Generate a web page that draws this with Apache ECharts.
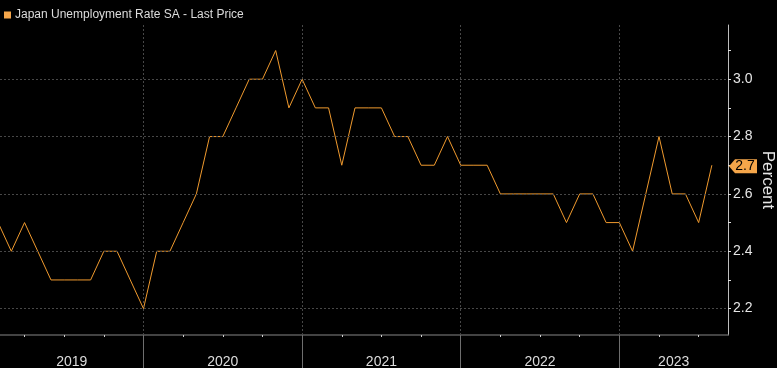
<!DOCTYPE html>
<html>
<head>
<meta charset="utf-8">
<script src="https://cdn.jsdelivr.net/npm/echarts@6/dist/echarts.min.js"></script>
<style>
html,body{margin:0;padding:0;background:#000;}
#c{width:777px;height:368px;}
</style>
</head>
<body>
<div id="c"></div>
<script>
// Monthly observations (plotted at month end)
const months = [
  '2019-01','2019-02','2019-03','2019-04','2019-05','2019-06','2019-07','2019-08','2019-09','2019-10','2019-11','2019-12',
  '2020-01','2020-02','2020-03','2020-04','2020-05','2020-06','2020-07','2020-08','2020-09','2020-10','2020-11','2020-12',
  '2021-01','2021-02','2021-03','2021-04','2021-05','2021-06','2021-07','2021-08','2021-09','2021-10','2021-11','2021-12',
  '2022-01','2022-02','2022-03','2022-04','2022-05','2022-06','2022-07','2022-08','2022-09','2022-10','2022-11','2022-12',
  '2023-01','2023-02','2023-03','2023-04','2023-05','2023-06','2023-07'
];
const rates = [
  2.5,2.4,2.5,2.4,2.3,2.3,2.3,2.3,2.4,2.4,2.3,2.2,
  2.4,2.4,2.5,2.6,2.8,2.8,2.9,3.0,3.0,3.1,2.9,3.0,
  2.9,2.9,2.7,2.9,2.9,2.9,2.8,2.8,2.7,2.7,2.8,2.7,
  2.7,2.7,2.6,2.6,2.6,2.6,2.6,2.5,2.6,2.6,2.5,2.5,
  2.4,2.6,2.8,2.6,2.6,2.5,2.7
];
const years = [2019, 2020, 2021, 2022, 2023];
const yLabelTicks = [2.2, 2.4, 2.6, 2.8, 3.0];
const yMinorTicks = [2.2, 2.3, 2.4, 2.5, 2.6, 2.7, 2.8, 2.9, 3.0, 3.1];
const seriesName = 'Japan Unemployment Rate SA - Last Price';

const BASE = 2019;
function pos(s){ const [y,m] = s.split('-').map(Number); return (y-BASE)*12 + m; }
const xMin = 1.144, xMax = 56.22;
const yMin = 2.108, yMax = 3.189;

const data = months.map((m,i)=>[pos(m), rates[i]]);
const yearBounds = years.slice(1).map(y=>(y-BASE)*12);
const yearMids = years.map(y=>{
  const a = Math.max(xMin,(y-BASE)*12), b = Math.min(xMax,(y-BASE+1)*12);
  return (a+b)/2;
});
const quarterTicks = [];
for(let q=3;q<xMax;q+=3){ if(q>xMin) quarterTicks.push(q); }
const last = data[data.length-1];

const FONT = 'Liberation Sans, Arial, sans-serif';
const chart = echarts.init(document.getElementById('c'));
chart.setOption({
  backgroundColor:'#000',
  animation:false,
  legend:{
    left:4, top:9, padding:0, itemWidth:7, itemHeight:7, icon:'rect', itemGap:4,
    textStyle:{color:'#dcdcdc', fontSize:12, fontFamily:FONT, padding:[0,0,0,-1]},
    data:[seriesName]
  },
  grid:{left:0, right:49, top:25, bottom:33, containLabel:false, outerBoundsMode:'none'},
  xAxis:[{
    type:'value', min:xMin, max:xMax, position:'bottom',
    axisLine:{show:true, lineStyle:{color:'#5a5a5a', width:1.5}},
    axisTick:{show:true, customValues:quarterTicks, length:2, inside:false, lineStyle:{color:'#cfcfcf', width:1}},
    axisLabel:{show:true, customValues:yearMids, margin:20, color:'#dcdcdc', fontSize:14, fontFamily:FONT,
      formatter:v=>String(BASE+Math.floor(v/12))},
    splitLine:{show:false}
  },{
    type:'value', min:xMin, max:xMax, position:'bottom',
    axisLine:{show:false},
    axisTick:{show:true, customValues:yearBounds, length:33, inside:false, lineStyle:{color:'#6e6e6e', width:1}},
    axisLabel:{show:false},
    splitLine:{show:false}
  }],
  yAxis:{
    type:'value', min:yMin, max:yMax, position:'right',
    name:'Percent', nameLocation:'middle', nameRotate:-90, nameGap:31, nameMoveOverlap:false,
    nameTextStyle:{color:'#e6e6e6', fontSize:17, fontFamily:FONT},
    axisLine:{show:true, lineStyle:{color:'#bdbdbd', width:1}},
    axisTick:{show:true, customValues:yMinorTicks, length:3, inside:false, lineStyle:{color:'#e0e0e0', width:1}},
    axisLabel:{show:true, customValues:yLabelTicks, margin:5, color:'#e6e6e6', fontSize:14, fontFamily:FONT,
      formatter:v=>v.toFixed(1)},
    splitLine:{show:false}
  },
  series:[{
    name:seriesName, type:'line', xAxisIndex:0, data:data,
    showSymbol:false, symbol:'none', clip:true,
    lineStyle:{color:'#f09a2e', width:1},
    itemStyle:{color:'#f5a64a'},
    markLine:{
      silent:true, symbol:'none', label:{show:false},
      lineStyle:{color:'#474747', type:[2,2], width:1},
      data:[...yLabelTicks.map(v=>({yAxis:v})), ...yearBounds.map(v=>({xAxis:v}))]
    },
    markPoint:{
      silent:true,
      data:[{coord:[xMax, last[1]], value:last[1]}],
      symbol:'path://M0,7 L6,0 L28,0 L28,14 L6,14 Z',
      symbolSize:[28,14], symbolOffset:[15,1],
      itemStyle:{color:'#f5a64a'},
      label:{show:true, position:'inside', offset:[2,0], color:'#000', fontSize:14, fontFamily:FONT,
        formatter:p=>Number(p.value).toFixed(1)}
    }
  }]
});
</script>
</body>
</html>
